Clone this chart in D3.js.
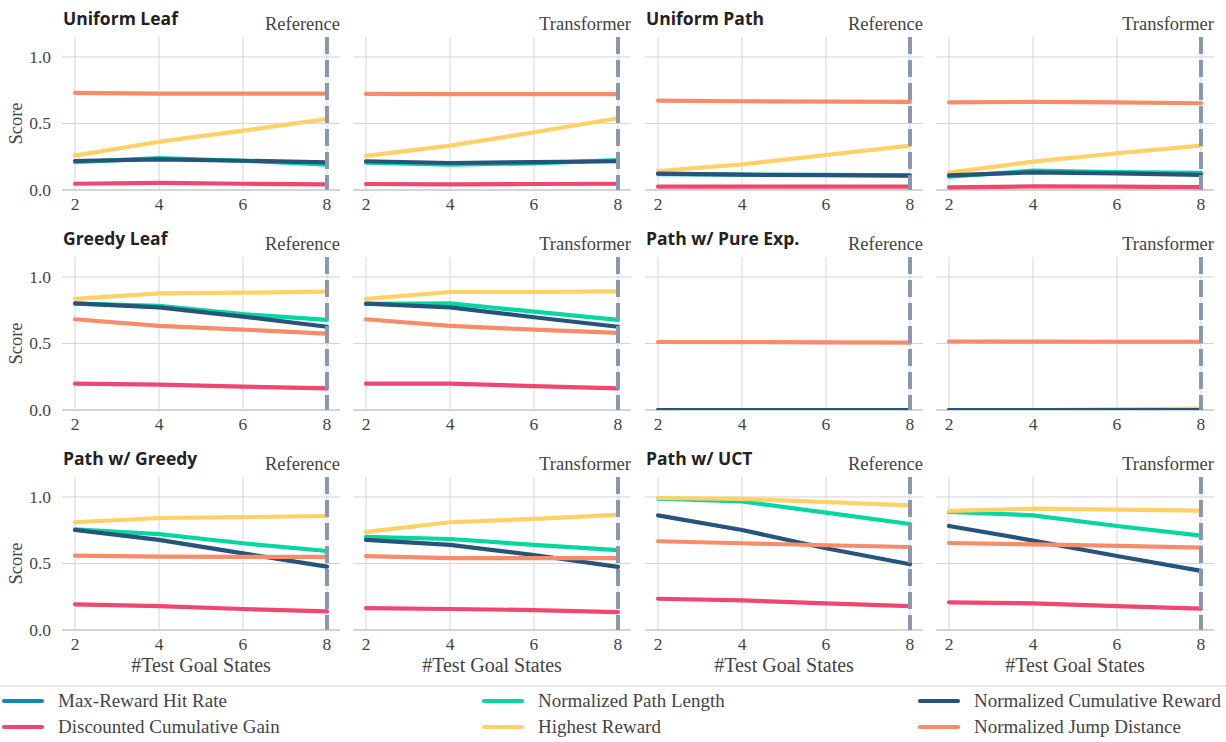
<!DOCTYPE html>
<html><head><meta charset="utf-8">
<script src="https://cdn.jsdelivr.net/npm/d3@7"></script>
<style>
html,body{margin:0;padding:0;background:#fff;}
svg{display:block;}
</style></head>
<body>
<svg id="chart" width="1226" height="742"></svg>
<script>
// ---------- data ----------
const xValues = [2, 4, 6, 8];
const xTicks = [2, 4, 6, 8];
const yTicks = [0.0, 0.5, 1.0];
const seriesNames = ["Max-Reward Hit Rate", "Discounted Cumulative Gain", "Normalized Path Length",
                     "Highest Reward", "Normalized Cumulative Reward", "Normalized Jump Distance"];
const seriesColors = ["#118ab2", "#ef476f", "#06d6a0", "#ffd166", "#26547c", "#f78c6b"];
const rowTitles = ["Uniform Leaf", "Uniform Path", "Greedy Leaf", "Path w/ Pure Exp.", "Path w/ Greedy", "Path w/ UCT"];
const modelNames = ["Reference", "Transformer"];

// values per panel; keys: dcg, pathLen, highest, cumReward, jump
const uniformLeafRef = {
  dcg: [0.047, 0.053, 0.047, 0.043], pathLen: [0.21, 0.24, 0.22, 0.19],
  highest: [0.258, 0.363, 0.446, 0.534], cumReward: [0.218, 0.23, 0.22, 0.208], jump: [0.73, 0.725, 0.725, 0.725] };
const uniformLeafTrf = {
  dcg: [0.045, 0.043, 0.045, 0.047], pathLen: [0.205, 0.19, 0.2, 0.225],
  highest: [0.256, 0.333, 0.434, 0.539], cumReward: [0.216, 0.203, 0.21, 0.216], jump: [0.722, 0.72, 0.72, 0.72] };
const uniformPathRef = {
  dcg: [0.025, 0.025, 0.025, 0.025], pathLen: [0.12, 0.115, 0.113, 0.11],
  highest: [0.143, 0.193, 0.263, 0.333], cumReward: [0.123, 0.115, 0.112, 0.108], jump: [0.672, 0.667, 0.664, 0.662] };
const uniformPathTrf = {
  dcg: [0.02, 0.027, 0.025, 0.022], pathLen: [0.10, 0.145, 0.135, 0.128],
  highest: [0.13, 0.213, 0.276, 0.333], cumReward: [0.11, 0.133, 0.125, 0.113], jump: [0.659, 0.662, 0.658, 0.652] };
const greedyLeafRef = {
  dcg: [0.198, 0.19, 0.175, 0.163], pathLen: [0.80, 0.782, 0.72, 0.677],
  highest: [0.835, 0.877, 0.882, 0.889], cumReward: [0.802, 0.772, 0.702, 0.626], jump: [0.682, 0.632, 0.604, 0.574] };
const greedyLeafTrf = {
  dcg: [0.198, 0.198, 0.18, 0.163], pathLen: [0.797, 0.802, 0.739, 0.677],
  highest: [0.835, 0.887, 0.887, 0.892], cumReward: [0.80, 0.772, 0.697, 0.626], jump: [0.682, 0.632, 0.604, 0.579] };
const pureExpRef = {
  dcg: [0, 0, 0, 0], pathLen: [0, 0, 0, 0],
  highest: [0, 0, 0, 0], cumReward: [0, 0, 0, 0], jump: [0.511, 0.51, 0.508, 0.506] };
const pureExpTrf = {
  dcg: [0, 0, 0, 0], pathLen: [0, 0, 0, 0],
  highest: [0, 0, 0.005, 0.01], cumReward: [0, 0, 0, 0], jump: [0.515, 0.514, 0.513, 0.513] };
const pathGreedyRef = {
  dcg: [0.193, 0.18, 0.158, 0.14], pathLen: [0.757, 0.72, 0.652, 0.594],
  highest: [0.81, 0.842, 0.848, 0.857], cumReward: [0.752, 0.677, 0.576, 0.476], jump: [0.559, 0.551, 0.549, 0.549] };
const pathGreedyTrf = {
  dcg: [0.165, 0.158, 0.15, 0.135], pathLen: [0.70, 0.684, 0.64, 0.60],
  highest: [0.737, 0.81, 0.835, 0.865], cumReward: [0.677, 0.64, 0.564, 0.474], jump: [0.556, 0.54, 0.54, 0.54] };
const pathUctRef = {
  dcg: [0.235, 0.223, 0.2, 0.18], pathLen: [0.987, 0.967, 0.882, 0.797],
  highest: [0.992, 0.985, 0.962, 0.937], cumReward: [0.862, 0.752, 0.614, 0.494], jump: [0.667, 0.652, 0.637, 0.624] };
const pathUctTrf = {
  dcg: [0.208, 0.2, 0.18, 0.16], pathLen: [0.887, 0.862, 0.782, 0.709],
  highest: [0.895, 0.912, 0.905, 0.897], cumReward: [0.782, 0.672, 0.556, 0.444], jump: [0.654, 0.644, 0.632, 0.619] };

const seriesKeys = [null, "dcg", "pathLen", "highest", "cumReward", "jump"]; // index-aligned with seriesNames

const panelGrid = [
  [uniformLeafRef, uniformLeafTrf, uniformPathRef, uniformPathTrf],
  [greedyLeafRef, greedyLeafTrf, pureExpRef, pureExpTrf],
  [pathGreedyRef, pathGreedyTrf, pathUctRef, pathUctTrf]
];

// ---------- layout ----------
const svg = d3.select("#chart");
const defs = svg.append("defs");
const colLeft = [62, 353, 645, 936];
const panelW = 278;
const rowBottom = [190, 410, 630];
const panelH = 153;
const serif = "'Liberation Serif', 'Times New Roman', serif";
const sans = "'Open Sans', 'Noto Sans', sans-serif";

panelGrid.forEach((row, r) => {
  row.forEach((data, c) => {
    const L = colLeft[c], B = rowBottom[r];
    const x = d3.scaleLinear().domain([1.69, 8.31]).range([L, L + panelW]);
    const y = d3.scaleLinear().domain([0, 1.15]).range([B, B - panelH]);
    const g = svg.append("g");
    const clipId = `clip-${r}-${c}`;
    defs.append("clipPath").attr("id", clipId).append("rect")
      .attr("x", L).attr("y", B - panelH).attr("width", panelW).attr("height", panelH);

    // grid lines
    g.selectAll(".vg").data(xTicks).join("line")
      .attr("x1", d => x(d)).attr("x2", d => x(d))
      .attr("y1", y(1.15)).attr("y2", B)
      .attr("stroke", "#d4d4d4").attr("stroke-width", 1);
    g.selectAll(".hg").data(yTicks).join("line")
      .attr("x1", L).attr("x2", L + panelW)
      .attr("y1", d => y(d)).attr("y2", d => y(d))
      .attr("stroke", "#d4d4d4").attr("stroke-width", 1);
    g.append("line").attr("x1", L).attr("x2", L + panelW).attr("y1", B).attr("y2", B)
      .attr("stroke", "#cccccc").attr("stroke-width", 1.6);

    // x tick labels
    g.selectAll(".xt").data(xTicks).join("text")
      .attr("x", d => x(d)).attr("y", B + 20)
      .attr("text-anchor", "middle").attr("font-family", serif).attr("font-size", 17.5)
      .attr("fill", "#444").text(d => d);

    if (c === 0) {
      g.selectAll(".yt").data(yTicks).join("text")
        .attr("x", L - 11).attr("y", d => y(d) + 6)
        .attr("text-anchor", "end").attr("font-family", serif).attr("font-size", 17.5)
        .attr("fill", "#444").text(d => d.toFixed(1));
      g.append("text")
        .attr("transform", `translate(${22},${y(0.5)}) rotate(-90)`)
        .attr("text-anchor", "middle").attr("font-family", serif).attr("font-size", 18.5)
        .attr("fill", "#444").text("Score");
    }

    // series lines (clipped to plot area)
    const lg = g.append("g").attr("clip-path", `url(#${clipId})`);
    const line = d3.line().x((d, i) => x(xValues[i])).y(d => y(d));
    seriesKeys.forEach((k, si) => {
      if (!k || !data[k]) return;
      lg.append("path").datum(data[k])
        .attr("d", line).attr("fill", "none")
        .attr("stroke", seriesColors[si]).attr("stroke-width", 4.2)
        .attr("stroke-linecap", "round").attr("stroke-linejoin", "round");
    });

    // dashed marker at x=8
    g.append("line").attr("x1", x(8)).attr("x2", x(8))
      .attr("y1", y(1.15)).attr("y2", B)
      .attr("stroke", "#8a97b0").attr("stroke-width", 4)
      .attr("stroke-dasharray", "17,6");

    g.append("text").attr("x", L + panelW).attr("y", B - 160)
      .attr("text-anchor", "end").attr("font-family", serif).attr("font-size", 18.5)
      .attr("fill", "#444").text(modelNames[c % 2]);

    if (c % 2 === 0) {
      g.append("text").attr("x", L + 1).attr("y", B - 165)
        .attr("font-family", sans).attr("font-weight", "bold").attr("font-size", 17.5)
        .attr("fill", "#222").text(rowTitles[r * 2 + c / 2]);
    }

    if (r === 2) {
      g.append("text").attr("x", L + panelW / 2).attr("y", B + 42)
        .attr("text-anchor", "middle").attr("font-family", serif).attr("font-size", 20)
        .attr("fill", "#444").text("#Test Goal States");
    }
  });
});

// ---------- legend ----------
svg.append("line").attr("x1", 0).attr("x2", 1226).attr("y1", 686).attr("y2", 686)
  .attr("stroke", "#e6e6e6").attr("stroke-width", 2);
const legX = [2, 482, 918];
const legY = [701, 727];
seriesNames.forEach((name, i) => {
  const col = Math.floor(i / 2), row = i % 2;
  const lx = legX[col], ly = legY[row];
  svg.append("line").attr("x1", lx + 2).attr("x2", lx + 40).attr("y1", ly).attr("y2", ly)
    .attr("stroke", seriesColors[i]).attr("stroke-width", 4.2).attr("stroke-linecap", "round");
  svg.append("text").attr("x", lx + 56).attr("y", ly + 6)
    .attr("font-family", serif).attr("font-size", 19).attr("fill", "#444").text(name);
});
</script>
</body></html>
